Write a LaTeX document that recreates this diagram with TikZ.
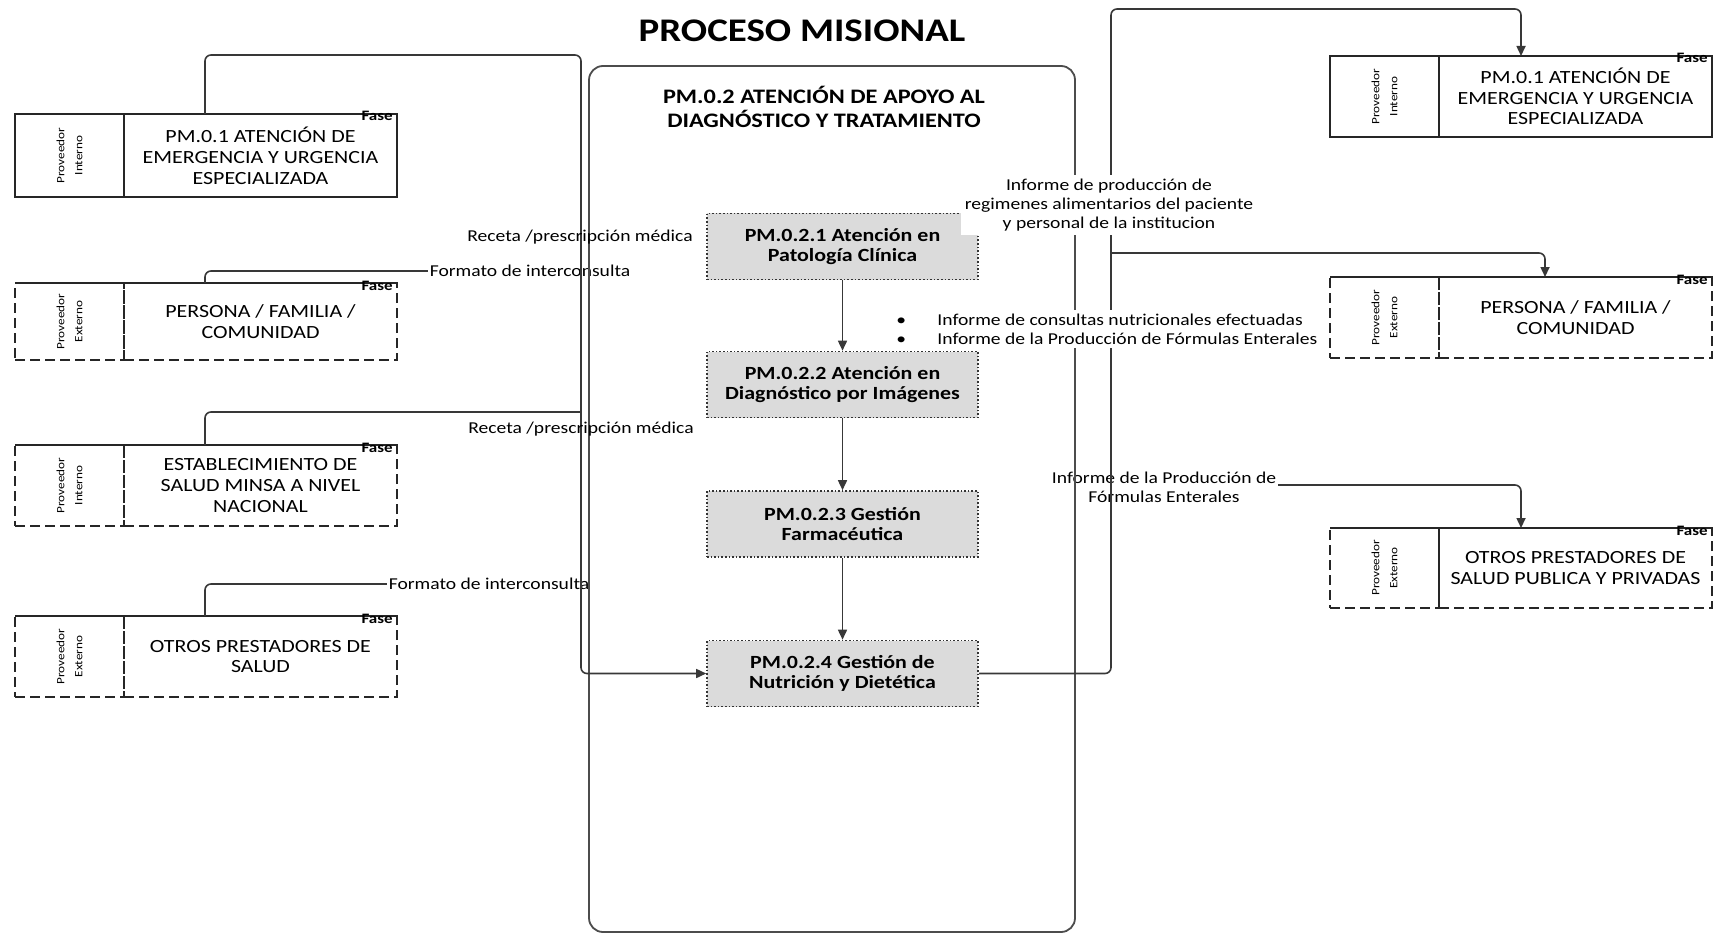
\documentclass[tikz,border=0pt]{standalone}
\usepackage{fontspec}
\setmainfont{Carlito}[FakeStretch=1.18]
\usetikzlibrary{arrows.meta,calc}
\begin{document}
\begin{tikzpicture}[x=0.5pt,y=-0.5pt,
  conn/.style={draw=black!78, line width=0.8pt, rounded corners=3pt},
  arr/.style={-{Triangle[length=5pt,width=4.5pt]}},
  boxtext/.style={inner sep=0pt, outer sep=0pt, align=center,
    font=\fontsize{9.3}{10.4}\selectfont, minimum width=136.5pt},
  provcell/.style={inner sep=0pt, outer sep=0pt, minimum width=54.5pt},
  solidbox/.style={draw=black!85, line width=0.9pt},
  dashbox/.style={draw=black!85, line width=0.9pt, dash pattern=on 5pt off 2.5pt},
  provtext/.style={rotate=90, align=center, inner sep=0pt,
    font=\fontsize{5.6}{9}\selectfont},
  fase/.style={anchor=base east, inner sep=0.5pt,
    font=\bfseries\fontsize{7.2}{8}\selectfont},
  proc/.style={draw=black!80, line width=0.8pt, densely dotted, fill=black!14,
    minimum width=135.5pt, minimum height=33pt, align=center, inner sep=0pt,
    font=\bfseries\fontsize{9.3}{10.4}\selectfont},
  lbl/.style={font=\fontsize{8.3}{9.3}\selectfont, inner sep=1pt, align=center},
  toprule/.style={draw=black!85, line width=0.9pt},
]
\useasboundingbox (0,0) rectangle (1716,936);

% ---------- title ----------
\node[font=\bfseries\fontsize{16.5}{18}\selectfont] (title) at (802,31) {PROCESO MISIONAL};

% ---------- left supplier boxes ----------
\node[solidbox, provcell, minimum height=41.5pt] (L1p) at (69.5,155.5) {};
\node[solidbox, boxtext, minimum height=41.5pt] (L1) at (260.5,155.5)
  {PM.0.1 ATENCIÓN DE\\EMERGENCIA Y URGENCIA\\ESPECIALIZADA};
\node[provtext] (L1pt) at (L1p) {Proveedor\\Interno};
\node[fase] (L1f) at ($(L1.north east)+(-3,7)$) {Fase};

\node[dashbox, provcell, minimum height=38.5pt] (L2p) at (69.5,321.5) {};
\node[dashbox, boxtext, minimum height=38.5pt] (L2) at (260.5,321.5)
  {PERSONA / FAMILIA /\\COMUNIDAD};
\draw[toprule] (L2p.north west) -- (L2.north east);
\node[provtext] (L2pt) at (L2p) {Proveedor\\Externo};
\node[fase] (L2f) at ($(L2.north east)+(-3,7)$) {Fase};

\node[dashbox, provcell, minimum height=40.5pt] (L3p) at (69.5,485.5) {};
\node[dashbox, boxtext, minimum height=40.5pt] (L3) at (260.5,485.5)
  {ESTABLECIMIENTO DE\\SALUD MINSA A NIVEL\\NACIONAL};
\draw[toprule] (L3p.north west) -- (L3.north east);
\node[provtext] (L3pt) at (L3p) {Proveedor\\Interno};
\node[fase] (L3f) at ($(L3.north east)+(-3,7)$) {Fase};

\node[dashbox, provcell, minimum height=40.5pt] (L4p) at (69.5,656.5) {};
\node[dashbox, boxtext, minimum height=40.5pt] (L4) at (260.5,656.5)
  {OTROS PRESTADORES DE\\SALUD};
\draw[toprule] (L4p.north west) -- (L4.north east);
\node[provtext] (L4pt) at (L4p) {Proveedor\\Externo};
\node[fase] (L4f) at ($(L4.north east)+(-3,7)$) {Fase};

% ---------- right client boxes ----------
\node[solidbox, provcell, minimum height=40.5pt] (R1p) at (1384.5,96.5) {};
\node[solidbox, boxtext, minimum height=40.5pt] (R1) at (1575.5,96.5)
  {PM.0.1 ATENCIÓN DE\\EMERGENCIA Y URGENCIA\\ESPECIALIZADA};
\node[provtext] (R1pt) at (R1p) {Proveedor\\Interno};
\node[fase] (R1f) at ($(R1.north east)+(-3,7)$) {Fase};

\node[dashbox, provcell, minimum height=40.5pt] (R2p) at (1384.5,317.5) {};
\node[dashbox, boxtext, minimum height=40.5pt] (R2) at (1575.5,317.5)
  {PERSONA / FAMILIA /\\COMUNIDAD};
\draw[toprule] (R2p.north west) -- (R2.north east);
\node[provtext] (R2pt) at (R2p) {Proveedor\\Externo};
\node[fase] (R2f) at ($(R2.north east)+(-3,7)$) {Fase};

\node[dashbox, provcell, minimum height=40pt] (R3p) at (1384.5,568) {};
\node[dashbox, boxtext, minimum height=40pt] (R3) at (1575.5,568)
  {OTROS PRESTADORES DE\\SALUD PUBLICA Y PRIVADAS};
\draw[toprule] (R3p.north west) -- (R3.north east);
\node[provtext] (R3pt) at (R3p) {Proveedor\\Externo};
\node[fase] (R3f) at ($(R3.north east)+(-3,7)$) {Fase};

% ---------- routing points ----------
\coordinate (lx) at (205,55);     % left riser column / top run
\coordinate (lbus) at (581,55);   % left collector line
\coordinate (rtop) at (1111,9);   % right distributor line, top
\coordinate (r1x) at (1521,0);
\coordinate (r2x) at (1545,0);
\coordinate (b2) at (1111,253);
\coordinate (b3) at (1111,485);

% ---------- branch lines (drawn beneath their labels) ----------
\draw[conn] (L2.north -| lx) |- (581,271);
\draw[conn] (L3.north -| lx) |- (581,412);
\draw[conn] (L4.north -| lx) |- (581,584);
\draw[conn, arr] (b3) -| (R3.north -| r1x);

\node[lbl, fill=white] (fmt1) at (530,271) {Formato de interconsulta};
\node[lbl, fill=white] (fmt2) at (489,584) {Formato de interconsulta};
\node[lbl, fill=white] (inf3) at (1164,487) {Informe de la Producción de\\Fórmulas Enterales};

% ---------- central process container ----------
\node[draw=black!70, line width=0.9pt, rounded corners=7pt, minimum width=243pt,
  minimum height=433pt, inner sep=0pt] (cont) at (832,499) {};
\node[align=center, font=\bfseries\fontsize{10.3}{12}\selectfont] (conttitle) at (824,107)
  {PM.0.2 ATENCIÓN DE APOYO AL\\DIAGNÓSTICO Y TRATAMIENTO};

\node[proc] (A) at (842.5,246.5) {PM.0.2.1 Atención en\\Patología Clínica};
\node[proc] (B) at (842.5,384.5) {PM.0.2.2 Atención en\\Diagnóstico por Imágenes};
\node[proc] (C) at (842.5,524) {PM.0.2.3 Gestión\\Farmacéutica};
\node[proc] (D) at (842.5,673.5) {PM.0.2.4 Gestión de\\Nutrición y Dietética};

\draw[conn, arr] (A) -- (B);
\draw[conn, arr] (B) -- (C);
\draw[conn, arr] (C) -- (D);

% ---------- main inputs and outputs ----------
\draw[conn, arr] (L1.north -| lx) -- (lx) -- (lbus) |- (D.west);
\draw[conn, arr] (D.east) -| (rtop) -| (R1.north -| r1x);
\draw[conn, arr] (b2) -| (R2.north -| r2x);

% ---------- labels ----------
\node[lbl] (rec1) at (580,237) {Receta /prescripción médica};
\node[lbl] (rec2) at (581,429) {Receta /prescripción médica};
\node[lbl, fill=white, inner sep=2pt] (inf1) at (1109,205)
  {Informe de producción de\\regimenes alimentarios del paciente\\y personal de la institucion};
\node[lbl, fill=white, anchor=west, align=left, inner sep=2pt] (inf2) at (892,329)
  {\makebox[20.5pt][l]{•}Informe de consultas nutricionales efectuadas\\
   \makebox[20.5pt][l]{•}Informe de la Producción de Fórmulas Enterales};
\end{tikzpicture}
\end{document}
